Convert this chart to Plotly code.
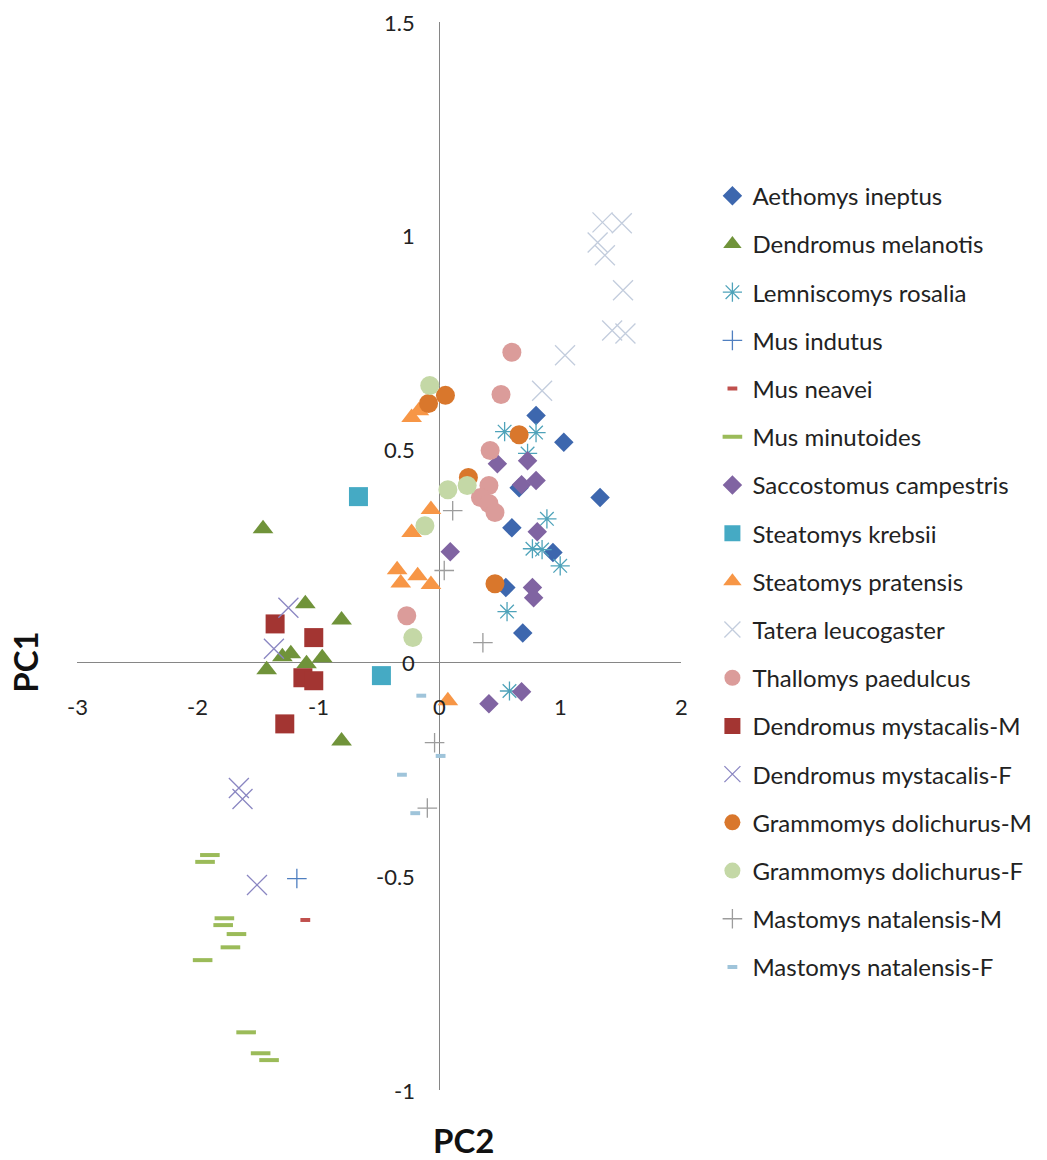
import plotly.graph_objects as go

# PCA scores (PC2 on x, PC1 on y) for each species / sex group
aethomys_x = [0.80, 1.03, 1.33, 0.66, 0.60, 0.94, 0.55, 0.69]
aethomys_y = [0.579, 0.516, 0.387, 0.41, 0.316, 0.258, 0.176, 0.07]

melanotis_x = [-1.46, -1.11, -0.81, -1.30, -1.23, -1.10, -0.97, -1.43, -0.81]
melanotis_y = [0.314, 0.138, 0.10, 0.014, 0.021, -0.002, 0.012, -0.016, -0.183]

lemniscomys_x = [0.54, 0.80, 0.73, 0.89, 0.77, 0.85, 1.00, 0.56, 0.58]
lemniscomys_y = [0.541, 0.539, 0.49, 0.337, 0.267, 0.265, 0.227, 0.12, -0.066]

indutus_x = [-1.18]
indutus_y = [-0.505]

neavei_x = [-1.11]
neavei_y = [-0.602]

minutoides_x = [-1.90, -1.94, -1.78, -1.79, -1.68, -1.73, -1.96, -1.60, -1.48, -1.41]
minutoides_y = [-0.45, -0.466, -0.598, -0.614, -0.635, -0.666, -0.696, -0.865, -0.914, -0.93]

saccostomus_x = [0.48, 0.73, 0.68, 0.80, 0.81, 0.09, 0.77, 0.78, 0.41, 0.68]
saccostomus_y = [0.466, 0.473, 0.417, 0.427, 0.307, 0.26, 0.176, 0.152, -0.096, -0.068]

krebsii_x = [-0.67, -0.48]
krebsii_y = [0.389, -0.03]

pratensis_x = [-0.23, -0.17, -0.07, -0.23, -0.35, -0.32, -0.18, -0.07, 0.07]
pratensis_y = [0.574, 0.59, 0.359, 0.305, 0.218, 0.187, 0.204, 0.183, -0.089]

tatera_x = [1.35, 1.51, 1.31, 1.37, 1.52, 1.43, 1.54, 1.04, 0.85]
tatera_y = [1.031, 1.029, 0.984, 0.954, 0.872, 0.778, 0.771, 0.72, 0.637]

thallomys_x = [0.60, 0.51, 0.42, 0.41, 0.34, 0.41, 0.46, -0.27]
thallomys_y = [0.727, 0.628, 0.497, 0.415, 0.387, 0.373, 0.352, 0.11]

mystacalis_m_x = [-1.36, -1.04, -1.13, -1.04, -1.28]
mystacalis_m_y = [0.091, 0.059, -0.035, -0.042, -0.143]

mystacalis_f_x = [-1.25, -1.37, -1.66, -1.63, -1.51]
mystacalis_f_y = [0.129, 0.033, -0.293, -0.319, -0.52]

grammomys_m_x = [0.05, -0.09, 0.66, 0.24, 0.46]
grammomys_m_y = [0.626, 0.607, 0.534, 0.434, 0.185]

grammomys_f_x = [-0.08, 0.07, 0.23, -0.12, -0.22]
grammomys_f_y = [0.649, 0.405, 0.415, 0.321, 0.059]

mastomys_m_x = [0.11, 0.04, 0.36, -0.04, -0.10]
mastomys_m_y = [0.356, 0.216, 0.047, -0.187, -0.34]

mastomys_f_x = [-0.15, 0.01, -0.31, -0.20]
mastomys_f_y = [-0.077, -0.218, -0.262, -0.352]

x_ticks = [-3, -2, -1, 0, 1, 2]
y_ticks = [-1, -0.5, 0, 0.5, 1, 1.5]
y_tick_text = ["-1", "-0.5", "0", "0.5", "1", "1.5"]

FONT = "Lato"

# (name, x, y, symbol, size, colour, line width for open symbols)
series = [
    ("Aethomys ineptus", aethomys_x, aethomys_y, "diamond", 15, "#3D67AE", 0),
    ("Dendromus melanotis", melanotis_x, melanotis_y, "triangle-up", 18, "#70933A", 0),
    ("Lemniscomys rosalia", lemniscomys_x, lemniscomys_y, "asterisk-open", 16, "#4FA3BA", 1.3),
    ("Mus indutus", indutus_x, indutus_y, "cross-thin-open", 14, "#4F7FC0", 1.3),
    ("Mus neavei", neavei_x, neavei_y, "line-ew-open", 7, "#C0504D", 4),
    ("Mus minutoides", minutoides_x, minutoides_y, "line-ew-open", 14, "#9BBB59", 4),
    ("Saccostomus campestris", saccostomus_x, saccostomus_y, "diamond", 15, "#8064A2", 0),
    ("Steatomys krebsii", krebsii_x, krebsii_y, "square", 19, "#45AAC4", 0),
    ("Steatomys pratensis", pratensis_x, pratensis_y, "triangle-up", 18, "#F79646", 0),
    ("Tatera leucogaster", tatera_x, tatera_y, "x-thin-open", 20, "#C3CDDD", 1.3),
    ("Thallomys paedulcus", thallomys_x, thallomys_y, "circle", 19, "#DB9C9A", 0),
    ("Dendromus mystacalis-M", mystacalis_m_x, mystacalis_m_y, "square", 19, "#A33532", 0),
    ("Dendromus mystacalis-F", mystacalis_f_x, mystacalis_f_y, "x-thin-open", 20, "#8A86C2", 1.3),
    ("Grammomys dolichurus-M", grammomys_m_x, grammomys_m_y, "circle", 19, "#D9772C", 0),
    ("Grammomys dolichurus-F", grammomys_f_x, grammomys_f_y, "circle", 19, "#C4D8A6", 0),
    ("Mastomys natalensis-M", mastomys_m_x, mastomys_m_y, "cross-thin-open", 14, "#9C9C9C", 1.3),
    ("Mastomys natalensis-F", mastomys_f_x, mastomys_f_y, "line-ew-open", 7, "#9FC4DA", 4),
]

fig = go.Figure()
for i, (name, xs, ys, sym, size, color, lw) in enumerate(series):
    marker = dict(symbol=sym, size=size, color=color)
    if lw:
        marker["line"] = dict(color=color, width=lw)
    else:
        marker["line"] = dict(width=0)
    fig.add_trace(go.Scatter(
        x=xs, y=ys, mode="markers", name=name, marker=marker,
        legendgroup=f"g{i}",
    ))

annotations = []
# x tick labels sit just under the horizontal axis line
for v in x_ticks:
    annotations.append(dict(x=v, y=0, xref="x", yref="y", text=str(v),
                            showarrow=False, yshift=-44, yanchor="middle",
                            font=dict(family=FONT, size=22, color="#222")))
# y tick labels sit to the left of the vertical axis line
for v, t in zip(y_ticks, y_tick_text):
    annotations.append(dict(x=0, y=v, xref="x", yref="y", text=t,
                            showarrow=False, xshift=-22, xanchor="right",
                            yanchor="middle",
                            font=dict(family=FONT, size=22, color="#222")))
# axis titles
annotations.append(dict(x=0.2, y=-1, xref="x", yref="y", text="<b>PC2</b>",
                        showarrow=False, yshift=-50, yanchor="middle",
                        font=dict(family=FONT, size=33, color="#111")))
annotations.append(dict(x=0, y=0, xref="paper", yref="y", text="<b>PC1</b>",
                        showarrow=False, xshift=-52, textangle=-90,
                        xanchor="center", yanchor="middle",
                        font=dict(family=FONT, size=33, color="#111")))

fig.update_layout(
    width=1047, height=1160,
    margin=dict(l=77, r=366, t=22, b=70, autoexpand=False),
    paper_bgcolor="white", plot_bgcolor="white",
    font=dict(family=FONT, size=22, color="#222"),
    showlegend=True,
    legend=dict(x=1.052, xanchor="left", y=0.858, yanchor="top",
                font=dict(family=FONT, size=24, color="#222"),
                tracegroupgap=14, bgcolor="rgba(0,0,0,0)"),
    annotations=annotations,
)
fig.update_xaxes(range=[-3, 2], showgrid=False, showticklabels=False,
                 showline=False, ticks="", zeroline=True,
                 zerolinecolor="#868686", zerolinewidth=1.2)
fig.update_yaxes(range=[-1, 1.5], showgrid=False, showticklabels=False,
                 showline=False, ticks="", zeroline=True,
                 zerolinecolor="#868686", zerolinewidth=1.2)

fig.write_html("out.html")
